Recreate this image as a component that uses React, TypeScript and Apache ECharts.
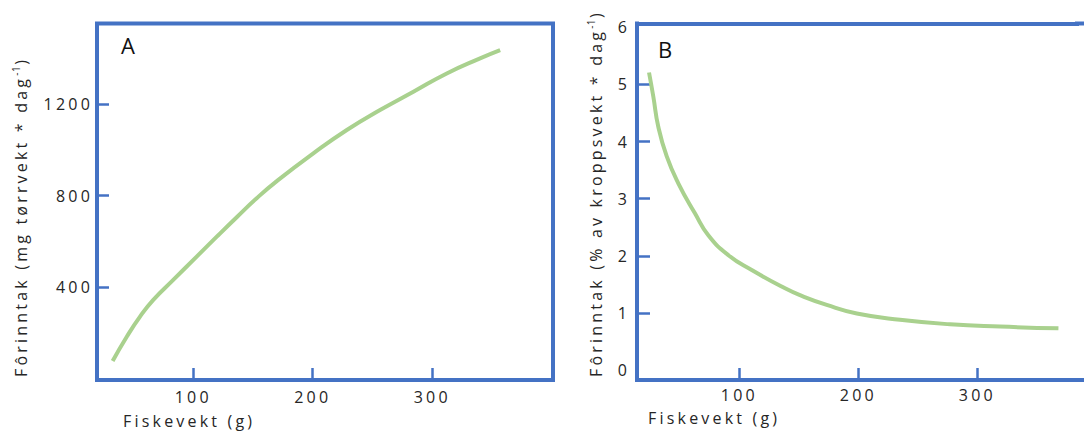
import React, { useEffect, useRef } from 'react';
import * as echarts from 'echarts';

// Panel A: fish weight (g) vs feed intake (mg dry weight per day)
const weightA = [32.6, 44.4, 55.5, 66.6, 83.3, 102.9, 119.7, 136.4, 153.1, 171.2, 200.5, 228.5, 256.3, 284.2, 312.1, 340, 356.8];
const intakeA = [78, 184, 272, 345, 432, 534, 621, 706, 789, 869, 985, 1087, 1174, 1254, 1334, 1400, 1436];

// Panel B: fish weight (g) vs feed intake (% of body weight per day)
const weightB = [24.1, 27.7, 31.9, 39.0, 48.7, 62.8, 73.9, 90.8, 110.4, 138.4, 151.0, 173.4, 198.7, 235.0, 277.0, 319.1, 368.1];
const intakeB = [5.21, 4.79, 4.26, 3.74, 3.27, 2.74, 2.36, 2.01, 1.75, 1.43, 1.31, 1.14, 0.99, 0.88, 0.8, 0.76, 0.73];

const xTicks = [100, 200, 300];
const yTicksA = [400, 800, 1200];
const yLabelsB = [0, 1, 2, 3, 4, 5, 6];
const yTicksB = [1, 2, 3, 4, 5];

const xTitle = 'Fiskevekt (g)';
const yTitleA = ['Fôrinntak (mg tørrvekt * dag', '-1', ')'];
const yTitleB = ['Fôrinntak (% av kroppsvekt * dag', '-1', ')'];

const BLUE = '#4472C4';
const GREEN = '#A9D18E';
const TXT = '#262626';
const FONT = '"Open Sans", sans-serif';
const SPACING = 3.2;
const SUP_SPACING = 0.5;

export default function App() {
  const ref = useRef<HTMLDivElement>(null);

  useEffect(() => {
    if (!ref.current) return;
    const el = ref.current;
    const chart = echarts.init(el, undefined, { renderer: 'svg', width: 1084, height: 432 });

    const ctx = document.createElement('canvas').getContext('2d')!;
    const measure = (text: string, size: number, spacing: number) => {
      ctx.font = `${size}px "Open Sans"`;
      return ctx.measureText(text).width + spacing * text.length;
    };

    const titleGroup = (x: number, yBottom: number, parts: string[]) => {
      const w0 = measure(parts[0], 16, SPACING);
      const w1 = measure(parts[1], 10, SUP_SPACING);
      const common = { fontFamily: FONT, fill: TXT, align: 'left', textAlign: 'left', verticalAlign: 'middle', textVerticalAlign: 'middle' };
      return {
        type: 'group',
        x,
        y: yBottom,
        rotation: Math.PI / 2,
        children: [
          { type: 'text', x: 0, y: 0, style: { ...common, text: parts[0], fontSize: 16 } },
          { type: 'text', x: w0, y: -5, style: { ...common, text: parts[1], fontSize: 10 } },
          { type: 'text', x: w0 + w1 + 1, y: 0, style: { ...common, text: parts[2], fontSize: 16 } },
        ],
      };
    };

    const tickStyle = { color: BLUE, width: 2.5 };
    const frameLine = { show: true, onZero: false, lineStyle: { color: BLUE, width: 4, cap: 'square' } };
    const noLine = { show: false, onZero: false };
    const labelStyle = { fontSize: 16, fontFamily: FONT, color: TXT, formatter: (v: number) => String(v) };

    // panel B frame continues past the right edge of the picture
    const gridB = { left: 637, top: 23.5, width: 440, height: 356.5 };
    const frameExt = (y: number) => ({
      type: 'line', silent: true,
      shape: { x1: gridB.left + gridB.width - 2, y1: y, x2: 1090, y2: y },
      style: { stroke: BLUE, lineWidth: 4 },
    });

    const option: any = {
      animation: false,
      grid: [
        { left: 97, top: 23.5, width: 456, height: 356.5, show: true, borderColor: BLUE, borderWidth: 4, backgroundColor: 'transparent', outerBoundsMode: 'none', containLabel: false },
        { ...gridB, show: false, outerBoundsMode: 'none', containLabel: false },
      ],
      xAxis: [
        {
          gridIndex: 0, type: 'value', min: 19.5, max: 401,
          axisLine: noLine, splitLine: { show: false },
          axisTick: { show: true, inside: true, length: 12, lineStyle: tickStyle, customValues: xTicks },
          axisLabel: { ...labelStyle, margin: 9, customValues: xTicks },
        },
        {
          gridIndex: 1, type: 'value', min: 14, max: 383.7, position: 'bottom',
          axisLine: frameLine, splitLine: { show: false },
          axisTick: { show: true, inside: true, length: 12, lineStyle: tickStyle, customValues: xTicks },
          axisLabel: { ...labelStyle, margin: 7, customValues: xTicks },
        },
        {
          gridIndex: 1, type: 'value', min: 14, max: 383.7, position: 'top',
          axisLine: frameLine, splitLine: { show: false },
          axisTick: { show: false }, axisLabel: { show: false },
        },
      ],
      yAxis: [
        {
          gridIndex: 0, type: 'value', min: -5, max: 1552,
          axisLine: noLine, splitLine: { show: false },
          axisTick: { show: true, inside: true, length: 12, lineStyle: tickStyle, customValues: yTicksA },
          axisLabel: { ...labelStyle, margin: 4, customValues: yTicksA },
        },
        {
          gridIndex: 1, type: 'value', min: -0.175, max: 6.068, position: 'left',
          axisLine: frameLine, splitLine: { show: false },
          axisTick: { show: true, inside: true, length: 13, lineStyle: tickStyle, customValues: yTicksB },
          axisLabel: { ...labelStyle, margin: 7, customValues: yLabelsB },
        },
      ],
      series: [
        {
          type: 'line', xAxisIndex: 0, yAxisIndex: 0,
          data: weightA.map((w, i) => [w, intakeA[i]]),
          showSymbol: false, smooth: 0.5, silent: true,
          lineStyle: { color: GREEN, width: 4 },
        },
        {
          type: 'line', xAxisIndex: 1, yAxisIndex: 1,
          data: weightB.map((w, i) => [w, intakeB[i]]),
          showSymbol: false, smooth: 0.5, silent: true,
          lineStyle: { color: GREEN, width: 4 },
        },
      ],
      graphic: [
        frameExt(gridB.top),
        frameExt(gridB.top + gridB.height),
        { type: 'text', x: 121, y: 45, style: { text: 'A', fontSize: 22, fontFamily: FONT, fill: '#111', align: 'left', textAlign: 'left', verticalAlign: 'middle', textVerticalAlign: 'middle' } },
        { type: 'text', x: 658, y: 48.5, style: { text: 'B', fontSize: 22, fontFamily: FONT, fill: '#111', align: 'left', textAlign: 'left', verticalAlign: 'middle', textVerticalAlign: 'middle' } },
        { type: 'text', x: 123, y: 421, style: { text: xTitle, fontSize: 16, fontFamily: FONT, fill: TXT, align: 'left', textAlign: 'left', verticalAlign: 'middle', textVerticalAlign: 'middle' } },
        { type: 'text', x: 648, y: 418, style: { text: xTitle, fontSize: 16, fontFamily: FONT, fill: TXT, align: 'left', textAlign: 'left', verticalAlign: 'middle', textVerticalAlign: 'middle' } },
        titleGroup(21, 377, yTitleA),
        titleGroup(596, 377, yTitleB),
      ],
    };

    const applySpacing = () => {
      el.querySelectorAll('text').forEach((t) => {
        const c = t.textContent || '';
        if (c === 'A' || c === 'B') return;
        t.setAttribute('letter-spacing', c === '-1' ? String(SUP_SPACING) : String(SPACING));
      });
    };

    chart.on('finished', applySpacing);
    chart.setOption(option);
    applySpacing();
    const raf = requestAnimationFrame(applySpacing);

    return () => {
      cancelAnimationFrame(raf);
      chart.dispose();
    };
  }, []);

  return <div ref={ref} style={{ position: 'absolute', left: 0, top: 0, width: 1084, height: 432, overflow: 'hidden' }} />;
}
